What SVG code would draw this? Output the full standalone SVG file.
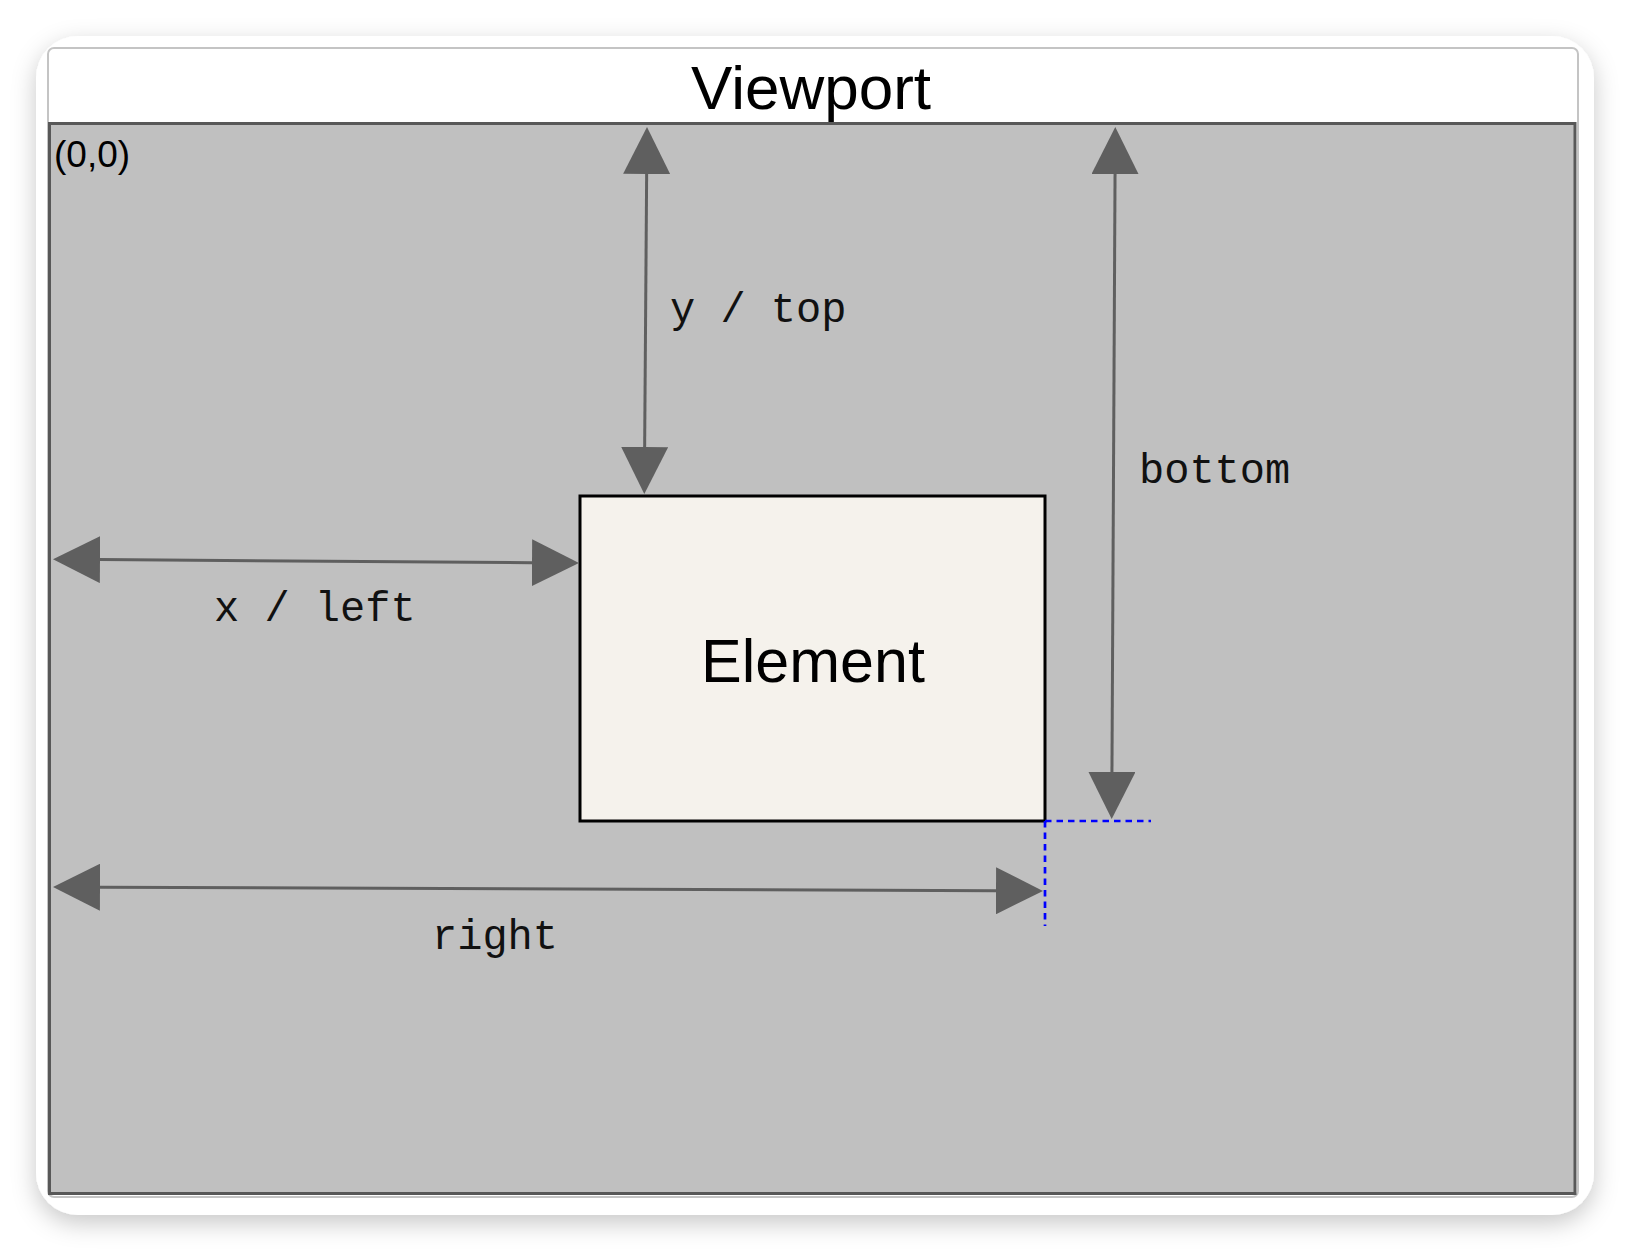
<svg xmlns="http://www.w3.org/2000/svg" width="1630" height="1252" viewBox="0 0 1630 1252">
  <defs>
    <filter id="shadow" x="-10%" y="-10%" width="120%" height="125%">
      <feDropShadow dx="0" dy="8" stdDeviation="12" flood-color="#000" flood-opacity="0.22"/>
    </filter>
    <marker id="head" viewBox="0 -23.5 47 47" refX="0" refY="0" markerWidth="47" markerHeight="47" markerUnits="userSpaceOnUse" orient="auto-start-reverse">
      <path d="M0,-23.5 L47,0 L0,23.5 Z" fill="#5f5f5f"/>
    </marker>
  </defs>
  <style>
    .sans { font-family: "Liberation Sans", Arial, Helvetica, sans-serif; fill: #000; }
    .mono { font-family: "Liberation Mono", "Courier New", monospace; font-size: 42px; fill: #111; }
    .dim { stroke: #5f5f5f; stroke-width: 3; fill: none; marker-start: url(#head); marker-end: url(#head); }
    .guide { stroke: #0000ff; stroke-width: 2.7; stroke-dasharray: 6.5 5; fill: none; }
  </style>
  <rect x="0" y="0" width="1630" height="1252" fill="#ffffff"/>

  <g id="card">
    <rect x="36" y="36" width="1558" height="1179" rx="42" ry="42" fill="#ffffff" filter="url(#shadow)"/>
  </g>

  <g id="viewport">
    <rect x="48" y="48" width="1530" height="1149" rx="6" ry="6" fill="#ffffff" stroke="#c4c4c4" stroke-width="2"/>
    <rect x="49.5" y="123.5" width="1525.5" height="1070" fill="#c0c0c0" stroke="#585858" stroke-width="3"/>
    <text class="sans" x="811" y="109" font-size="62" text-anchor="middle">Viewport</text>
    <text class="sans" x="54" y="167" font-size="37">(0,0)</text>
  </g>

  <g id="element">
    <rect x="580" y="496" width="465" height="325" fill="#f5f2ec" stroke="#000000" stroke-width="3"/>
    <text class="sans" x="813" y="682" font-size="61" text-anchor="middle">Element</text>
  </g>

  <g id="connectors">
    <line class="dim" x1="646.65" y1="174" x2="644.65" y2="447"/>
    <line class="dim" x1="1115.05" y1="174" x2="1111.95" y2="772"/>
    <line class="dim" x1="100" y1="559.6" x2="532" y2="562.7"/>
    <line class="dim" x1="100" y1="887.2" x2="996" y2="890.8"/>
    <line class="guide" x1="1045" y1="821" x2="1151" y2="821"/>
    <line class="guide" x1="1045" y1="821" x2="1045" y2="926"/>
  </g>

  <g id="labels">
    <text class="mono" x="670" y="322">y / top</text>
    <text class="mono" x="1139" y="483">bottom</text>
    <text class="mono" x="214" y="621">x / left</text>
    <text class="mono" x="432" y="949">right</text>
  </g>
</svg>
